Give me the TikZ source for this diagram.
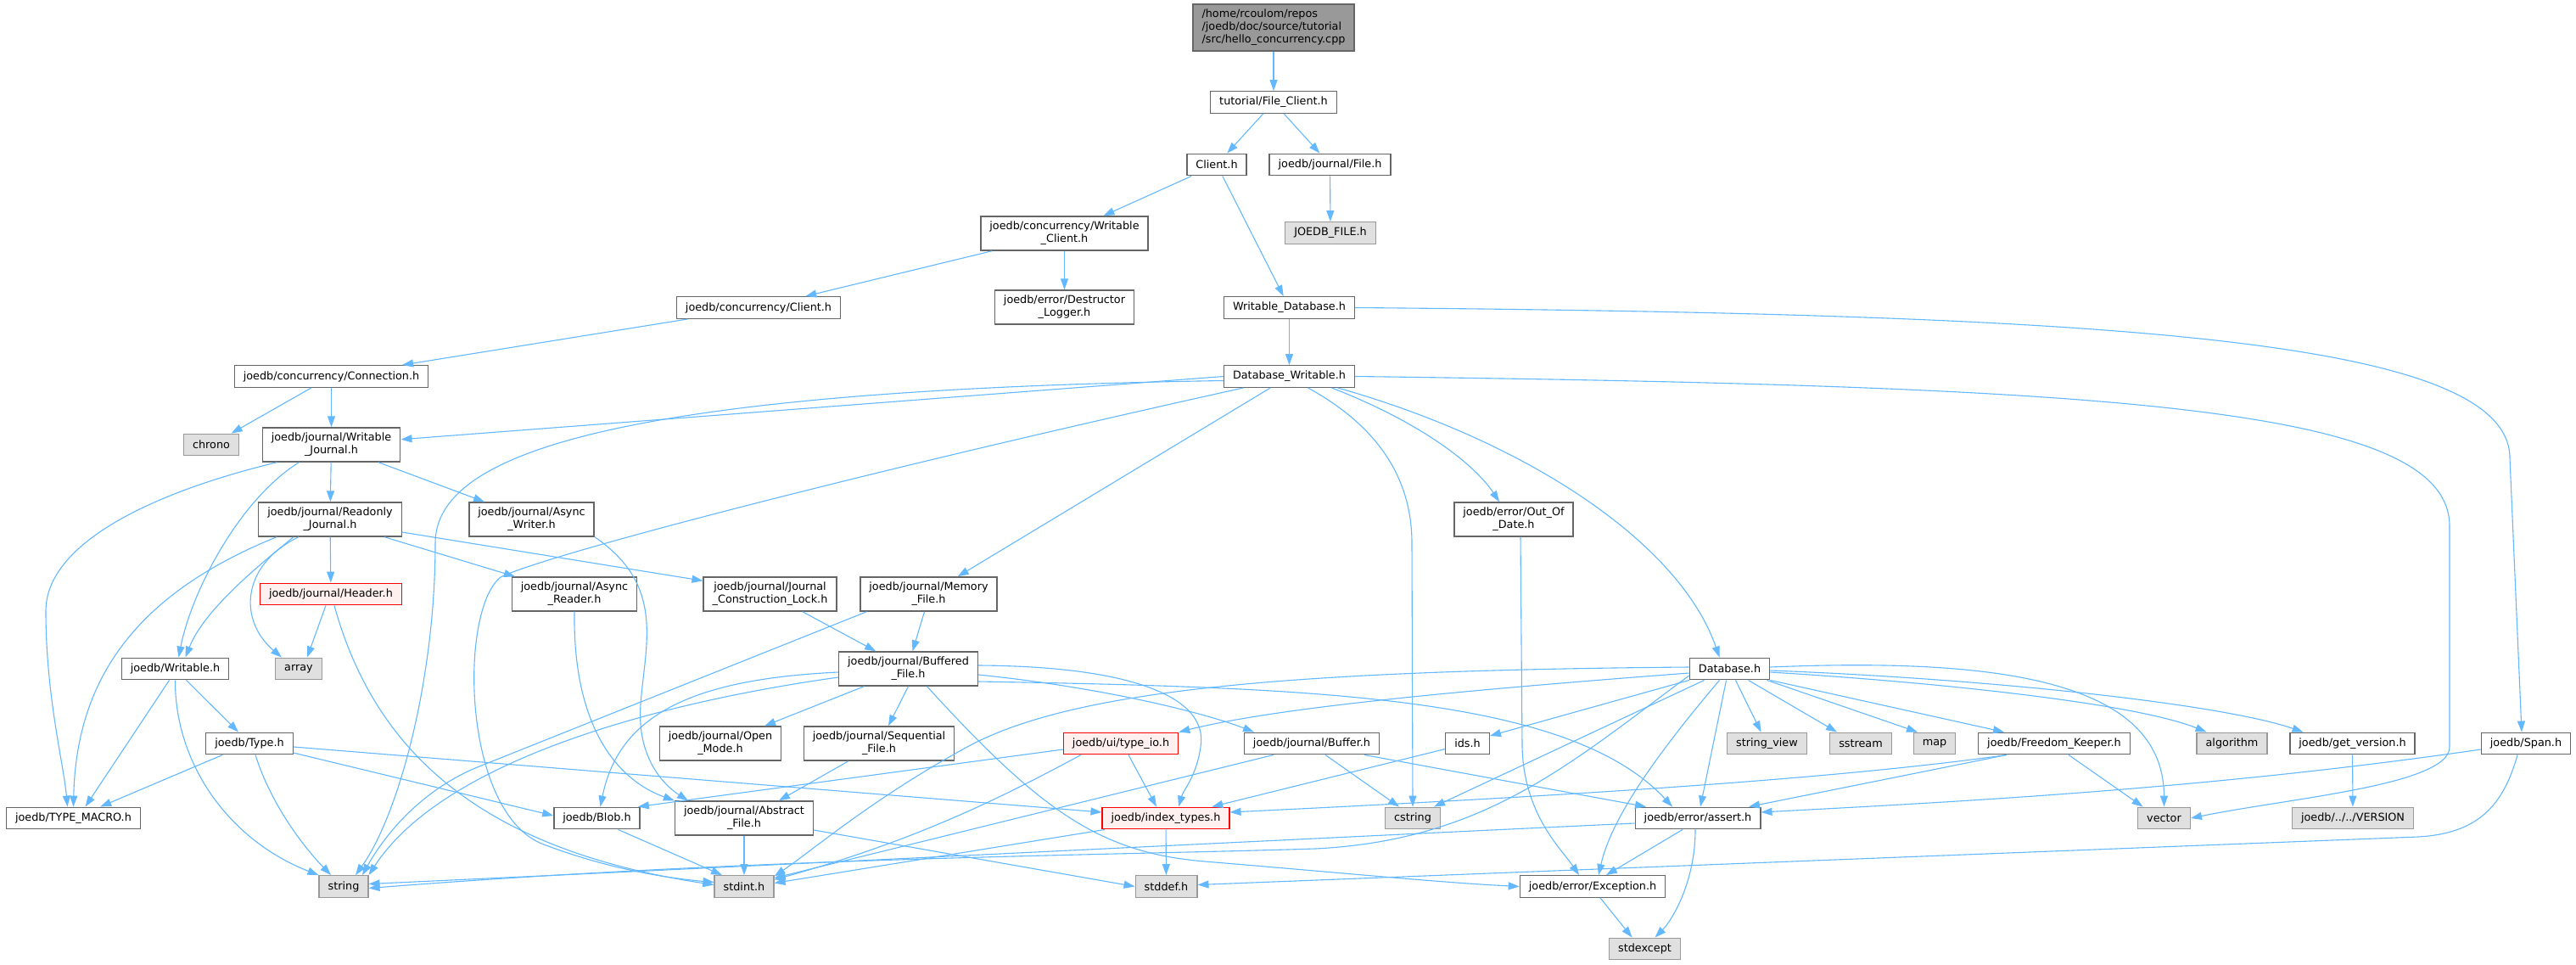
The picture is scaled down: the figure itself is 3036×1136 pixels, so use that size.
\documentclass[tikz,border=0pt]{standalone}
\usepackage{fontspec}
\setmainfont{DejaVu Sans}
\usepackage{xcolor}
\usepackage{tikz}
\usetikzlibrary{arrows.meta}

\definecolor{edgeblue}{HTML}{63B8FF}
\definecolor{boxgray}{HTML}{666666}
\definecolor{sysfill}{HTML}{E0E0E0}
\definecolor{sysline}{HTML}{999999}
\definecolor{rootfill}{HTML}{999999}
\definecolor{redfill}{HTML}{FFF0F0}

\begin{document}
\begin{tikzpicture}[
    x=1pt, y=-1pt,
    hfile/.style={draw=boxgray, fill=white, line width=1.4pt, rectangle, inner xsep=10.5pt, inner ysep=0pt, minimum height=25.5pt, align=center, font=\fontsize{12.8}{15}\selectfont},
    twoline/.style={minimum height=40pt},
    sysfile/.style={hfile, fill=sysfill, draw=sysline},
    redfile/.style={hfile, fill=redfill, draw=red},
    mainfile/.style={hfile, fill=rootfill, draw=boxgray, align=left, minimum height=55pt},
    incl/.style={draw=edgeblue, line width=1.1pt, -{Triangle[length=13pt,width=9pt]}}
]

\useasboundingbox[fill=white] (0,0) rectangle (3036,1136);

% Source file and clients
\node[mainfile] (root) at (1501,32.5) {/home/rcoulom/repos\\/joedb/doc/source/tutorial\\/src/hello\_concurrency.cpp};
\node[hfile] (fileclient) at (1501,120.5) {tutorial/File\_Client.h};
\node[hfile] (client) at (1434,194) {Client.h};
\node[hfile] (jfile) at (1567.5,194) {joedb/journal/File.h};
\node[sysfile] (joedbfile) at (1568,274.5) {JOEDB\_FILE.h};
\node[hfile, twoline] (wclient) at (1254.5,275) {joedb/concurrency/Writable\\\_Client.h};
\node[hfile] (cclient) at (894,362.5) {joedb/concurrency/Client.h};
\node[hfile, twoline] (destructor) at (1254.5,362) {joedb/error/Destructor\\\_Logger.h};
\node[hfile] (wdatabase) at (1519.5,362.5) {Writable\_Database.h};
\node[hfile] (connection) at (390.5,443.5) {joedb/concurrency/Connection.h};
\node[hfile] (dbwritable) at (1519.5,443.5) {Database\_Writable.h};

% Journal layer
\node[sysfile] (chrono) at (249,524) {chrono};
\node[hfile, twoline] (wjournal) at (390.5,524) {joedb/journal/Writable\\\_Journal.h};
\node[hfile, twoline] (rjournal) at (389,612) {joedb/journal/Readonly\\\_Journal.h};
\node[hfile, twoline] (asyncwriter) at (626.5,612) {joedb/journal/Async\\\_Writer.h};
\node[hfile, twoline] (outofdate) at (1784,612) {joedb/error/Out\_Of\\\_Date.h};
\node[redfile] (header) at (390,700) {joedb/journal/Header.h};
\node[hfile, twoline] (asyncreader) at (677,700) {joedb/journal/Async\\\_Reader.h};
\node[hfile, twoline] (jcl) at (907.5,700) {joedb/journal/Journal\\\_Construction\_Lock.h};
\node[hfile, twoline] (memfile) at (1094.5,700) {joedb/journal/Memory\\\_File.h};
\node[hfile] (writable) at (206.5,788) {joedb/Writable.h};
\node[sysfile] (array) at (352,788) {array};
\node[hfile, twoline] (buffered) at (1070.5,788) {joedb/journal/Buffered\\\_File.h};
\node[hfile] (database) at (2038.5,788) {Database.h};

% Row of headers
\node[hfile] (typeh) at (294,876) {joedb/Type.h};
\node[hfile, twoline] (openmode) at (849,876) {joedb/journal/Open\\\_Mode.h};
\node[hfile, twoline] (seqfile) at (1036,876) {joedb/journal/Sequential\\\_File.h};
\node[redfile] (typeio) at (1321,876) {joedb/ui/type\_io.h};
\node[hfile] (buffer) at (1546,876) {joedb/journal/Buffer.h};
\node[hfile] (ids) at (1729.5,876) {ids.h};
\node[sysfile] (stringview) at (2082.5,876) {string\_view};
\node[sysfile] (sstream) at (2193,876) {sstream};
\node[sysfile] (map) at (2280,876) {map};
\node[hfile] (freedom) at (2421,876) {joedb/Freedom\_Keeper.h};
\node[sysfile] (algorithm) at (2630.5,876) {algorithm};
\node[hfile] (getversion) at (2772.5,876) {joedb/get\_version.h};
\node[hfile] (span) at (2977,876) {joedb/Span.h};

\node[hfile] (typemacro) at (86.5,964) {joedb/TYPE\_MACRO.h};
\node[hfile] (blob) at (703.5,964) {joedb/Blob.h};
\node[hfile, twoline] (abstract) at (877,964) {joedb/journal/Abstract\\\_File.h};
\node[redfile] (indextypes) at (1374,964) {joedb/index\_types.h};
\node[sysfile] (cstring) at (1665,964) {cstring};
\node[hfile] (assert) at (2001,964) {joedb/error/assert.h};
\node[sysfile] (vector) at (2550.5,964) {vector};
\node[sysfile] (version) at (2773,964) {joedb/../../VERSION};

% System headers at the bottom
\node[sysfile] (string) at (405,1044.5) {string};
\node[sysfile] (stdint) at (877,1044.5) {stdint.h};
\node[sysfile] (stddef) at (1374.5,1044.5) {stddef.h};
\node[hfile] (exception) at (1877,1044.5) {joedb/error/Exception.h};
\node[sysfile] (stdexcept) at (1938.5,1118) {stdexcept};

% Includes: top
\draw[incl] (root) -- (fileclient);
\draw[incl] (fileclient) -- (client);
\draw[incl] (fileclient) -- (jfile);
\draw[incl] (jfile) -- (joedbfile);
\draw[incl] (client) -- (wclient);
\draw[incl] (client) -- (wdatabase);
\draw[incl] (wclient) -- (cclient);
\draw[incl] (wclient) -- (destructor);
\draw[incl] (cclient) -- (connection);
\draw[incl] (connection) -- (chrono);
\draw[incl] (connection) -- (wjournal);
\draw[incl] (wdatabase) -- (dbwritable);
\draw[incl] (wdatabase.east) .. controls (2500,370) and (2958,400) .. (2958,540) -- ([xshift=-5pt]span.north);

% Includes: Database_Writable.h
\draw[incl] (dbwritable.west) -- (wjournal);
\draw[incl] ([yshift=-5pt]dbwritable.west) .. controls (700,460) and (513,540) .. (513,640) .. controls (513,800) and (470,960) .. ([xshift=14pt]string.north);
\draw[incl] ([xshift=-54pt]dbwritable.south) .. controls (1000,560) and (640,655) .. (590,680) .. controls (540,720) and (545,960) .. (641,995) .. controls (720,1025) and (790,1035) .. ([yshift=5pt]stdint.west);
\draw[incl] (dbwritable) -- (memfile);
\draw[incl] ([xshift=22pt]dbwritable.south) .. controls (1620,500) and (1664,560) .. (1664,640) -- (cstring.north);
\draw[incl] ([xshift=50pt]dbwritable.south) .. controls (1680,500) and (1740,550) .. ([xshift=-17pt]outofdate.north);
\draw[incl] ([xshift=57pt]dbwritable.south) .. controls (1800,520) and (1980,640) .. ([xshift=-12pt]database.north);
\draw[incl] (dbwritable.east) .. controls (2500,455) and (2887,480) .. (2887,620) -- (2887,880) .. controls (2887,925) and (2700,940) .. (vector.east);

% Includes: journals
\draw[incl] (wjournal) -- (rjournal);
\draw[incl] (wjournal) -- (asyncwriter);
\draw[incl] ([xshift=-64pt]wjournal.south) .. controls (180,580) and (54,640) .. (54,720) .. controls (54,820) and (75,900) .. ([xshift=-7pt]typemacro.north);
\draw[incl] ([xshift=-38pt]wjournal.south) .. controls (280,590) and (225,700) .. ([xshift=4pt]writable.north);
\draw[incl] (rjournal) -- (header);
\draw[incl] ([xshift=-37pt]rjournal.south) .. controls (285,665) and (280,730) .. ([xshift=-20pt]array.north);
\draw[incl] ([xshift=-43pt]rjournal.south) .. controls (300,670) and (240,720) .. ([xshift=12pt]writable.north);
\draw[incl] ([xshift=-63pt]rjournal.south) .. controls (160,700) and (90,800) .. (typemacro.north);
\draw[incl] ([xshift=64pt]rjournal.south) -- ([xshift=-70pt]asyncreader.north);
\draw[incl] ([yshift=-15pt]rjournal.east) -- ([yshift=-5pt]jcl.north west);
\draw[incl] (asyncwriter.south east) .. controls (785,690) and (760,760) .. (755,830) .. controls (750,900) and (790,930) .. ([xshift=-66pt]abstract.north);
\draw[incl] ([xshift=-6pt]header.south) -- ([xshift=10pt]array.north);
\draw[incl] ([xshift=4pt]header.south) .. controls (440,880) and (560,1000) .. ([yshift=2pt]stdint.west);
\draw[incl] (asyncreader.south) .. controls (675,860) and (730,920) .. (abstract.north west);
\draw[incl] (jcl) -- (buffered);
\draw[incl] ([xshift=-5pt]memfile.south) -- ([xshift=5pt]buffered.north);
\draw[incl] ([xshift=-73pt]memfile.south) -- (560,905) .. controls (490,935) and (450,990) .. ([xshift=22pt]string.north);

% Includes: Buffered_File.h
\draw[incl] (buffered) -- (openmode);
\draw[incl] (buffered.south) -- ([xshift=11pt]seqfile.north);
\draw[incl] ([yshift=-4pt]buffered.west) .. controls (820,800) and (730,840) .. ([xshift=4pt]blob.north);
\draw[incl] ([yshift=-10pt]buffered.west) .. controls (760,830) and (520,900) .. (string.north east);
\draw[incl] ([yshift=-7pt]buffered.east) .. controls (1300,810) and (1420,840) .. ([xshift=-68pt]buffer.north);
\draw[incl] ([yshift=4pt]buffered.east) .. controls (1330,785) and (1425,820) .. (1415,880) .. controls (1410,915) and (1395,930) .. ([xshift=15pt]indextypes.north);
\draw[incl] ([yshift=-15pt]buffered.east) .. controls (1550,810) and (1850,820) .. ([xshift=-30pt]assert.north);
\draw[incl] ([xshift=22pt]buffered.south) .. controls (1230,960) and (1300,1005) .. (1420,1015) .. controls (1600,1030) and (1700,1040) .. (exception.west);
\draw[incl] ([xshift=-36pt]seqfile.south) -- ([xshift=41pt]abstract.north);
\draw[incl] (abstract) -- (stdint);
\draw[incl] ([yshift=-14pt]abstract.east) -- (stddef.west);
\draw[incl] ([xshift=25pt]blob.south) -- ([xshift=-26pt]stdint.north);

% Includes: Writable.h and Type.h
\draw[incl] ([xshift=-7pt]writable.south) -- ([xshift=14pt]typemacro.north);
\draw[incl] (writable.south) .. controls (206,900) and (270,990) .. (string.north west);
\draw[incl] ([xshift=13pt]writable.south) -- ([xshift=-13pt]typeh.north);
\draw[incl] (typeh) -- (typemacro);
\draw[incl] ([xshift=7pt]typeh.south) .. controls (320,950) and (360,1000) .. ([xshift=-15pt]string.north);
\draw[incl] ([yshift=-11pt]typeh.east) -- ([yshift=3pt]blob.west);
\draw[incl] ([yshift=-4pt]typeh.east) -- ([yshift=7pt]indextypes.west);

% Includes: type_io.h, Buffer.h, ids.h, index_types.h
\draw[incl] ([yshift=-7pt]typeio.west) -- ([xshift=-3pt]blob.north east);
\draw[incl] ([xshift=9pt]typeio.south) -- ([xshift=-11pt]indextypes.north);
\draw[incl] ([xshift=-47pt]typeio.south) .. controls (1180,940) and (1080,990) .. ([yshift=8pt]stdint.east);
\draw[incl] ([xshift=16pt]buffer.south) -- ([xshift=-16pt]cstring.north);
\draw[incl] ([xshift=62pt]buffer.south) -- ([xshift=-61pt]assert.north);
\draw[incl] ([xshift=-45pt]buffer.south) -- ([yshift=10pt]stdint.east);
\draw[incl] (ids) -- (indextypes);
\draw[incl] (indextypes) -- (stddef);
\draw[incl] ([xshift=-72pt]indextypes.south) -- ([yshift=4pt]stdint.east);
\draw[incl] ([xshift=8pt]outofdate.south) -- (1794,880) .. controls (1796,960) and (1840,1000) .. ([xshift=-16pt]exception.north);

% Includes: Database.h
\draw[incl] ([xshift=7pt]database.south) -- ([xshift=-7pt]stringview.north);
\draw[incl] ([xshift=22pt]database.south) -- ([xshift=-28pt]sstream.north);
\draw[incl] ([xshift=44pt]database.south) -- ([xshift=-20pt]map.north);
\draw[incl] (database.south east) -- ([xshift=-59pt]freedom.north);
\draw[incl] ([yshift=-4pt]database.east) .. controls (2300,805) and (2520,830) .. ([xshift=-30pt]algorithm.north);
\draw[incl] ([yshift=-2pt]database.east) .. controls (2350,800) and (2620,830) .. ([xshift=-58pt]getversion.north);
\draw[incl] ([yshift=2pt]database.east) .. controls (2350,775) and (2550,800) .. (vector.north);
\draw[incl] ([xshift=-4pt]database.south) -- ([xshift=3pt]assert.north);
\draw[incl] ([xshift=-12pt]database.south) .. controls (1960,880) and (1900,960) .. ([xshift=7pt]exception.north);
\draw[incl] (database.south west) -- ([yshift=9pt]ids.east);
\draw[incl] ([xshift=-30pt]database.south) -- ([xshift=25pt]cstring.north);
\draw[incl] ([yshift=-5pt]database.west) .. controls (1700,815) and (1500,835) .. (typeio.north east);
\draw[incl] ([yshift=2pt]database.west) .. controls (1500,790) and (1260,815) .. (1140,880) .. controls (1030,940) and (960,1000) .. ([yshift=12pt]stdint.east);
\draw[incl] ([yshift=-8pt]database.west) .. controls (1850,900) and (1750,990) .. (1550,1000) .. controls (1300,1008) and (900,1010) .. ([yshift=-2pt]string.east);

% Includes: Freedom_Keeper.h, get_version.h, Span.h
\draw[incl] ([xshift=-56pt]freedom.south) .. controls (2150,920) and (1800,940) .. ([yshift=7pt]indextypes.east);
\draw[incl] ([xshift=-56pt]freedom.south) -- ([xshift=60pt]assert.north);
\draw[incl] ([xshift=17pt]freedom.south) -- ([xshift=-25pt]vector.north);
\draw[incl] (getversion) -- (version);
\draw[incl] ([yshift=-7pt]span.west) .. controls (2600,930) and (2300,945) .. ([yshift=7pt]assert.east);
\draw[incl] ([xshift=-10pt]span.south) .. controls (2950,950) and (2920,982) .. (2850,986) -- ([yshift=2pt]stddef.east);

% Includes: errors
\draw[incl] ([xshift=-18pt]assert.south) -- ([xshift=16pt]exception.north);
\draw[incl] ([xshift=-3pt]assert.south) .. controls (1998,1040) and (1970,1085) .. ([xshift=12pt]stdexcept.north);
\draw[incl] ([yshift=-6pt]assert.west) .. controls (1500,990) and (900,1020) .. ([yshift=3pt]string.east);
\draw[incl] ([xshift=9pt]exception.south) -- ([xshift=-15pt]stdexcept.north);

\end{tikzpicture}
\end{document}
